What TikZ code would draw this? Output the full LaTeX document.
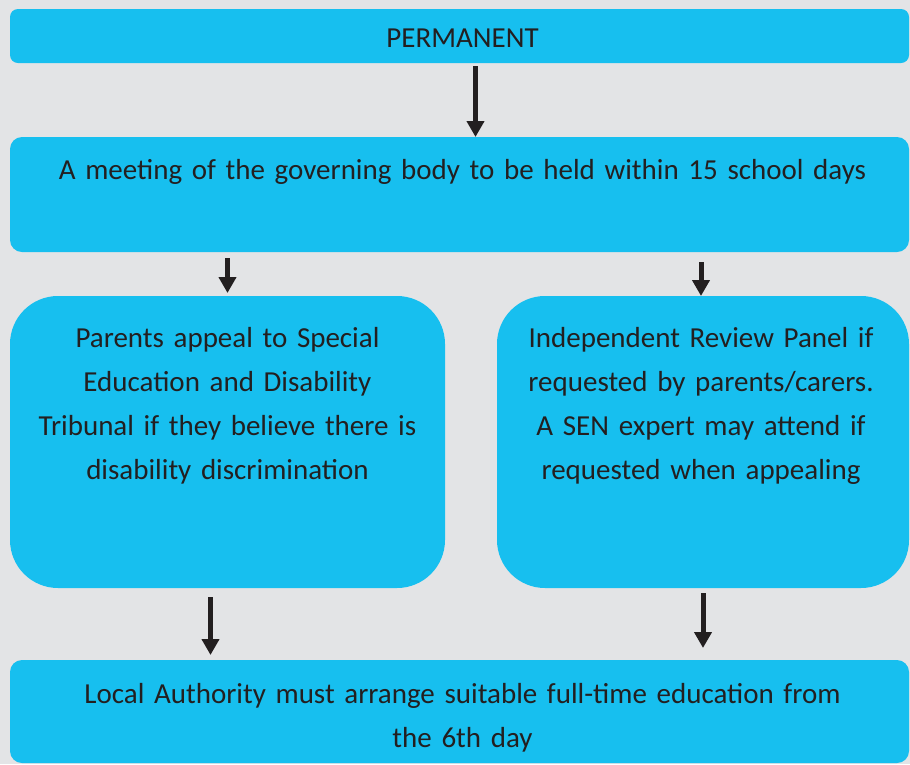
\documentclass[tikz,border=0pt]{standalone}
\usepackage{fontspec}
\setmainfont{Carlito}
\usetikzlibrary{arrows.meta}
\definecolor{sky}{HTML}{17BFEF}
\definecolor{paper}{HTML}{E3E4E6}
\definecolor{ink}{HTML}{231F20}
\begin{document}
\begin{tikzpicture}[x=1pt,y=-1pt,
        block/.style={fill=sky, inner sep=0pt, outer sep=0pt, anchor=north west},
        txt/.style={text=ink, font=\fontsize{29}{44}\selectfont, align=center, anchor=base, inner sep=0pt, text width=#1},
        arr/.style={draw=ink, line width=5pt, -{Triangle[width=17pt,length=16pt]}}]
        \fill[paper] (0,0) rectangle (910,764);
        \useasboundingbox (0,0) rectangle (910,764);
        % boxes
        \node[block, rounded corners=8pt, minimum width=899pt, minimum height=54pt] (perm) at (10,9) {};
        \node[block, rounded corners=12pt, minimum width=899pt, minimum height=115pt] (meet) at (10,137) {};
        \node[block, rounded corners=48pt, minimum width=435pt, minimum height=292pt] (sendist) at (10,296) {};
        \node[block, rounded corners=48pt, minimum width=412pt, minimum height=292pt] (irp) at (497,296) {};
        \node[block, rounded corners=12pt, minimum width=899pt, minimum height=103pt] (la) at (10,660) {};
        % texts
        \node[txt=880pt] (permtxt) at ([xshift=3pt,yshift=-38pt]perm.north) {PERMANENT};
        \node[txt=880pt] (meettxt) at ([xshift=3pt,yshift=-42pt]meet.north) {A meeting of the governing body to be held within 15 school days};
        \node[txt=420pt] (sendisttxt) at ([yshift=-51pt]sendist.north) {Parents appeal to Special\\ Education and Disability\\ Tribunal if they believe there is\\ disability discrimination};
        \node[txt=400pt] (irptxt) at ([xshift=-2pt,yshift=-51pt]irp.north) {Independent Review Panel if\\ requested by parents/carers.\\ A SEN expert may attend if\\ requested when appealing};
        \node[txt=880pt] (latxt) at ([xshift=3pt,yshift=-43pt]la.north) {Local Authority must arrange suitable full-time education from\\ the 6th day};
        % arrows
        \draw[arr, shorten <=3pt] ([xshift=16pt]perm.south) -- ([xshift=16pt]perm.south |- meet.north);
        \draw[arr, shorten <=6pt, shorten >=3pt] (sendist.north |- meet.south) -- (sendist.north);
        \draw[arr, shorten <=10pt] ([xshift=-2pt]irp.north |- meet.south) -- ([xshift=-2pt]irp.north);
        \draw[arr, shorten <=9pt, shorten >=5pt] ([xshift=-17pt]sendist.south) -- ([xshift=-17pt]sendist.south |- la.north);
        \draw[arr, shorten <=5pt, shorten >=12pt] (irp.south) -- (irp.south |- la.north);
\end{tikzpicture}
\end{document}
